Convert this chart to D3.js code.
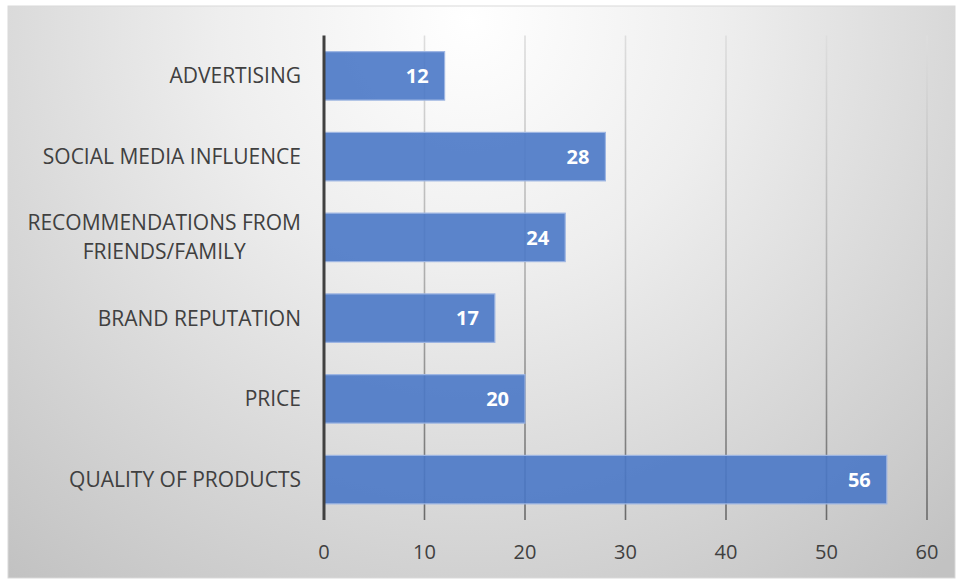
<!DOCTYPE html>
<html>
<head>
<meta charset="utf-8">
<script src="https://cdn.jsdelivr.net/npm/d3@7/dist/d3.min.js"></script>
<style>
  html, body { margin: 0; padding: 0; background: #ffffff; }
  svg { display: block; }
  text { font-family: "Open Sans", Lato, sans-serif; }
</style>
</head>
<body>
<svg id="chart" width="956" height="579"></svg>
<script>
// Purchase drivers, listed top to bottom
const categories = [
  ["ADVERTISING"],
  ["SOCIAL MEDIA INFLUENCE"],
  ["RECOMMENDATIONS FROM", "FRIENDS/FAMILY"],
  ["BRAND REPUTATION"],
  ["PRICE"],
  ["QUALITY OF PRODUCTS"]
];
const values = [12, 28, 24, 17, 20, 56];
const xTicks = [0, 10, 20, 30, 40, 50, 60];

const svg = d3.select("#chart");
const frame = { x: 8, y: 6, w: 947, h: 572 };
const plot = { left: 324, right: 927, top: 35.5, bottom: 520 };
const labelRight = 301;

const defs = svg.append("defs");
const bg = defs.append("radialGradient")
  .attr("id", "bgGrad")
  .attr("gradientUnits", "userSpaceOnUse")
  .attr("cx", 470).attr("cy", 20).attr("r", 720)
  .attr("fx", 470).attr("fy", 20);
bg.append("stop").attr("offset", "0").attr("stop-color", "#ffffff");
bg.append("stop").attr("offset", "0.35").attr("stop-color", "#eeeeee");
bg.append("stop").attr("offset", "1").attr("stop-color", "#c2c2c2");

const gridGrad = defs.append("linearGradient")
  .attr("id", "gridGrad")
  .attr("gradientUnits", "userSpaceOnUse")
  .attr("x1", 0).attr("y1", plot.top).attr("x2", 0).attr("y2", plot.bottom);
gridGrad.append("stop").attr("offset", "0").attr("stop-color", "#dedede");
gridGrad.append("stop").attr("offset", "0.5").attr("stop-color", "#adadad");
gridGrad.append("stop").attr("offset", "1").attr("stop-color", "#6a6a6a");

// chart frame
svg.append("rect")
  .attr("x", frame.x).attr("y", frame.y)
  .attr("width", frame.w).attr("height", frame.h)
  .attr("fill", "url(#bgGrad)")
  .attr("stroke", "#d9d9d9").attr("stroke-width", 1);

const x = d3.scaleLinear().domain([0, 60]).range([plot.left, plot.right]);
const y = d3.scaleBand()
  .domain(d3.range(categories.length))
  .range([plot.top, plot.bottom])
  .paddingInner(0.4).paddingOuter(0.2);

// vertical gridlines
svg.append("g")
  .selectAll("line")
  .data(xTicks.filter(t => t > 0))
  .join("line")
  .attr("x1", d => x(d)).attr("x2", d => x(d))
  .attr("y1", plot.top).attr("y2", plot.bottom)
  .attr("stroke", "url(#gridGrad)")
  .attr("stroke-width", 1.6);

// bars
svg.append("g")
  .selectAll("rect")
  .data(values)
  .join("rect")
  .attr("x", x(0))
  .attr("y", (d, i) => y(i))
  .attr("width", d => x(d) - x(0))
  .attr("height", y.bandwidth())
  .attr("fill", "#4a78c6")
  .attr("fill-opacity", 0.9)
  .attr("stroke", "#9db5e2")
  .attr("stroke-width", 1.2);

// value labels inside bar ends
svg.append("g")
  .selectAll("text")
  .data(values)
  .join("text")
  .attr("x", d => x(d) - 16)
  .attr("y", (d, i) => y(i) + y.bandwidth() / 2)
  .attr("dy", "0.36em")
  .attr("text-anchor", "end")
  .attr("fill", "#ffffff")
  .attr("font-weight", "bold")
  .attr("font-size", 20)
  .text(d => d);

// category axis line
svg.append("line")
  .attr("x1", x(0)).attr("x2", x(0))
  .attr("y1", plot.top).attr("y2", plot.bottom)
  .attr("stroke", "#404040").attr("stroke-width", 3);

// category labels: each block right-aligned to the axis, lines centred within it
const catG = svg.append("g");
categories.forEach((lines, i) => {
  const cy = y(i) + y.bandwidth() / 2;
  const lh = 29;
  const t = catG.append("text")
    .attr("fill", "#404040")
    .attr("font-size", 21)
    .attr("text-anchor", "middle");
  lines.forEach((ln, k) => {
    t.append("tspan")
      .attr("x", 0)
      .attr("y", cy + (k - (lines.length - 1) / 2) * lh)
      .attr("dy", "0.36em")
      .text(ln);
  });
  const bw = d3.max(t.selectAll("tspan").nodes(), n => n.getComputedTextLength());
  t.selectAll("tspan").attr("x", labelRight - bw / 2);
});

// value axis tick labels
svg.append("g")
  .selectAll("text")
  .data(xTicks)
  .join("text")
  .attr("x", d => x(d))
  .attr("y", 552)
  .attr("dy", "0.36em")
  .attr("text-anchor", "middle")
  .attr("fill", "#404040")
  .attr("font-size", 20)
  .text(d => d);
</script>
</body>
</html>
